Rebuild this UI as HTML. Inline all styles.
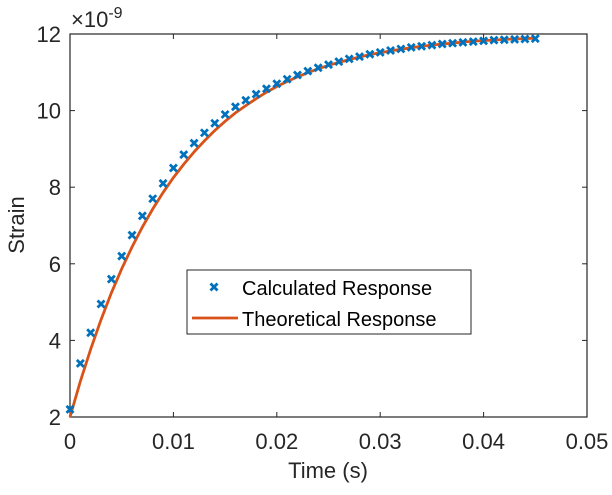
<!DOCTYPE html>
<html><head><meta charset="utf-8"><style>
body{margin:0;background:#fff;}
svg{display:block;font-family:"Liberation Sans",sans-serif;}
</style></head><body>
<svg id="chart" width="612" height="495">
<g id="axes"></g><g id="marks"></g><g id="legend"></g>
</svg>
<script>
const timeMs = [0,1,2,3,4,5,6,7,8,9,10,11,12,13,14,15,16,17,18,19,20,21,22,23,24,25,26,27,28,29,30,31,32,33,34,35,36,37,38,39,40,41,42,43,44,45];
const calculated = [2.2,3.4,4.2,4.95,5.6,6.2,6.75,7.25,7.7,8.1,8.5,8.85,9.15,9.42,9.67,9.9,10.1,10.27,10.43,10.57,10.7,10.82,10.93,11.03,11.12,11.2,11.28,11.35,11.41,11.47,11.52,11.57,11.61,11.65,11.68,11.71,11.74,11.76,11.78,11.8,11.82,11.84,11.85,11.86,11.87,11.88];
const theoretical = [2.0,2.93,3.77,4.54,5.24,5.87,6.44,6.96,7.43,7.86,8.25,8.6,8.92,9.21,9.48,9.72,9.94,10.13,10.31,10.48,10.63,10.76,10.88,10.99,11.09,11.18,11.26,11.33,11.4,11.46,11.51,11.56,11.6,11.64,11.68,11.71,11.74,11.76,11.79,11.81,11.83,11.84,11.86,11.87,11.88,11.89];
const xTicks = [0,0.01,0.02,0.03,0.04,0.05];
const xTickLabels = ["0","0.01","0.02","0.03","0.04","0.05"];
const yTicks = [2,4,6,8,10,12];
const yTickLabels = ["2","4","6","8","10","12"];

const L=70,R=587,T=34,B=417;
const xs=v=>L+(v-0)/(0.05)*(R-L);
const ys=v=>B-(v-2)/10*(B-T);
const NS="http://www.w3.org/2000/svg";
function mk(tag,attrs,parent,text){const e=document.createElementNS(NS,tag);for(const k in attrs)e.setAttribute(k,attrs[k]);if(text!=null)e.textContent=text;parent.appendChild(e);return e;}
const ax=document.getElementById('axes'),mg=document.getElementById('marks'),lg=document.getElementById('legend');

let box=mk('rect',{x:L,y:T,width:R-L,height:B-T,fill:'#fff',stroke:'#262626','stroke-width':1.2},ax);


xTicks.forEach((v,i)=>{
  const x=xs(v);
  mk('line',{x1:x,y1:B,x2:x,y2:B-5,stroke:'#262626'},ax);
  mk('line',{x1:x,y1:T,x2:x,y2:T+5,stroke:'#262626'},ax);
  const t=mk('text',{x:x,y:449,'text-anchor':'middle','font-size':22,fill:'#262626'},ax,xTickLabels[i]);
  
  
});
yTicks.forEach((v,i)=>{
  const y=ys(v);
  mk('line',{x1:L,y1:y,x2:L+5,y2:y,stroke:'#262626'},ax);
  mk('line',{x1:R,y1:y,x2:R-5,y2:y,stroke:'#262626'},ax);
  const t=mk('text',{x:61,y:y+8,'text-anchor':'end','font-size':22,fill:'#262626'},ax,yTickLabels[i]);
  
  
});
let xt=mk('text',{x:328,y:478,'text-anchor':'middle','font-size':22,fill:'#262626'},ax,'Time (s)');


let yt=mk('text',{x:24,y:225,'text-anchor':'middle','font-size':22,fill:'#262626',transform:'rotate(-90 24 225)'},ax,'Strain');


let ex=mk('text',{x:71,y:27,'font-size':22,fill:'#262626'},ax,'\u00d710');


mk('tspan',{dy:-9,'font-size':16},ex,'-9');

let d=theoretical.map((v,i)=>(i?'L':'M')+xs(timeMs[i]/1000).toFixed(2)+','+ys(v).toFixed(2)).join('');
let line=mk('path',{d:d,fill:'none',stroke:'#d95319','stroke-width':2.8},mg);


function cross(x,y,p){return mk('path',{d:`M${x-3.5},${y-3.5}L${x+3.5},${y+3.5}M${x-3.5},${y+3.5}L${x+3.5},${y-3.5}`,stroke:'#0072bd','stroke-width':2.8},p);}
calculated.forEach((v,i)=>{
  const c=cross(xs(timeMs[i]/1000),ys(v),mg);
  
  
});

let lb=mk('rect',{x:187,y:270,width:284,height:64,fill:'#fff',stroke:'#262626','stroke-width':1},lg);


let lc=cross(214,287,lg);


let t1=mk('text',{x:242,y:295,'font-size':20,fill:'#000'},lg,'Calculated Response');


let ll=mk('line',{x1:192,y1:318,x2:238,y2:318,stroke:'#d95319','stroke-width':2.8},lg);


let t2=mk('text',{x:242,y:326,'font-size':20,fill:'#000'},lg,'Theoretical Response');


</script>
</body></html>
